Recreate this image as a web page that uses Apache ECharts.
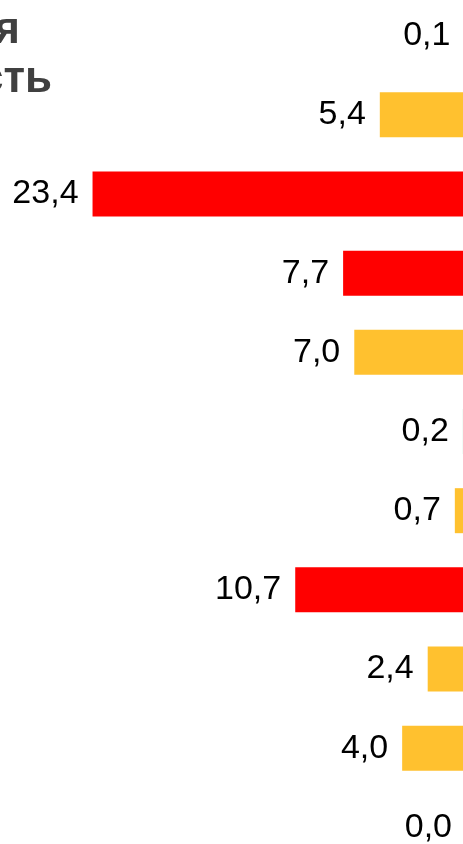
<!DOCTYPE html>
<html>
<head>
<meta charset="utf-8">
<style>
  html, body { margin: 0; padding: 0; background: #ffffff; }
  #chart { width: 463px; height: 844px; }
</style>
<script src="https://cdn.jsdelivr.net/npm/echarts@6/dist/echarts.min.js"></script>
</head>
<body>
<div id="chart"></div>
<script>
// категории (подписи осей в кадр не попали)
var categories = ["1", "2", "3", "4", "5", "6", "7", "8", "9", "10", "11"];
var values = [0.1, 5.4, 23.4, 7.7, 7.0, 0.2, 0.7, 10.7, 2.4, 4.0, 0.0];
var barColors = ["#FFC12F", "#FFC12F", "#FF0000", "#FF0000", "#FFC12F", "#BDEBD6",
  "#FFC12F", "#FF0000", "#FFC12F", "#FFC12F", "#FFC12F"];
var titleLines = ["я", "сть"];

var chart = echarts.init(document.getElementById("chart"));

chart.setOption({
  animation: false,
  backgroundColor: "#ffffff",
  grid: {
    left: 67,
    right: -3,
    top: -4,
    bottom: -23,
    containLabel: false,
    outerBoundsMode: "none"
  },
  xAxis: {
    type: "value",
    inverse: true,
    min: 0,
    max: 25,
    show: false
  },
  yAxis: {
    type: "category",
    inverse: true,
    data: categories,
    show: false
  },
  graphic: [
    {
      // заголовок обрезан слева, видны только концы строк
      type: "text",
      right: 443,
      top: 9,
      style: {
        text: titleLines[0],
        font: "bold 44px 'Liberation Sans', Arial, sans-serif",
        fill: "#404040",
        textAlign: "right"
      }
    },
    {
      type: "text",
      right: 411,
      top: 58,
      style: {
        text: titleLines[1],
        font: "bold 44px 'Liberation Sans', Arial, sans-serif",
        fill: "#404040",
        textAlign: "right"
      }
    }
  ],
  series: [
    {
      type: "bar",
      barWidth: 45,
      data: values.map(function (v, i) {
        return { value: v, itemStyle: { color: barColors[i] } };
      }),
      label: {
        show: true,
        position: "left",
        distance: 14,
        color: "#000000",
        fontSize: 34,
        fontFamily: "'Liberation Sans', Arial, sans-serif",
        formatter: function (p) {
          return p.value.toFixed(1).replace(".", ",");
        }
      }
    }
  ]
});
</script>
</body>
</html>
